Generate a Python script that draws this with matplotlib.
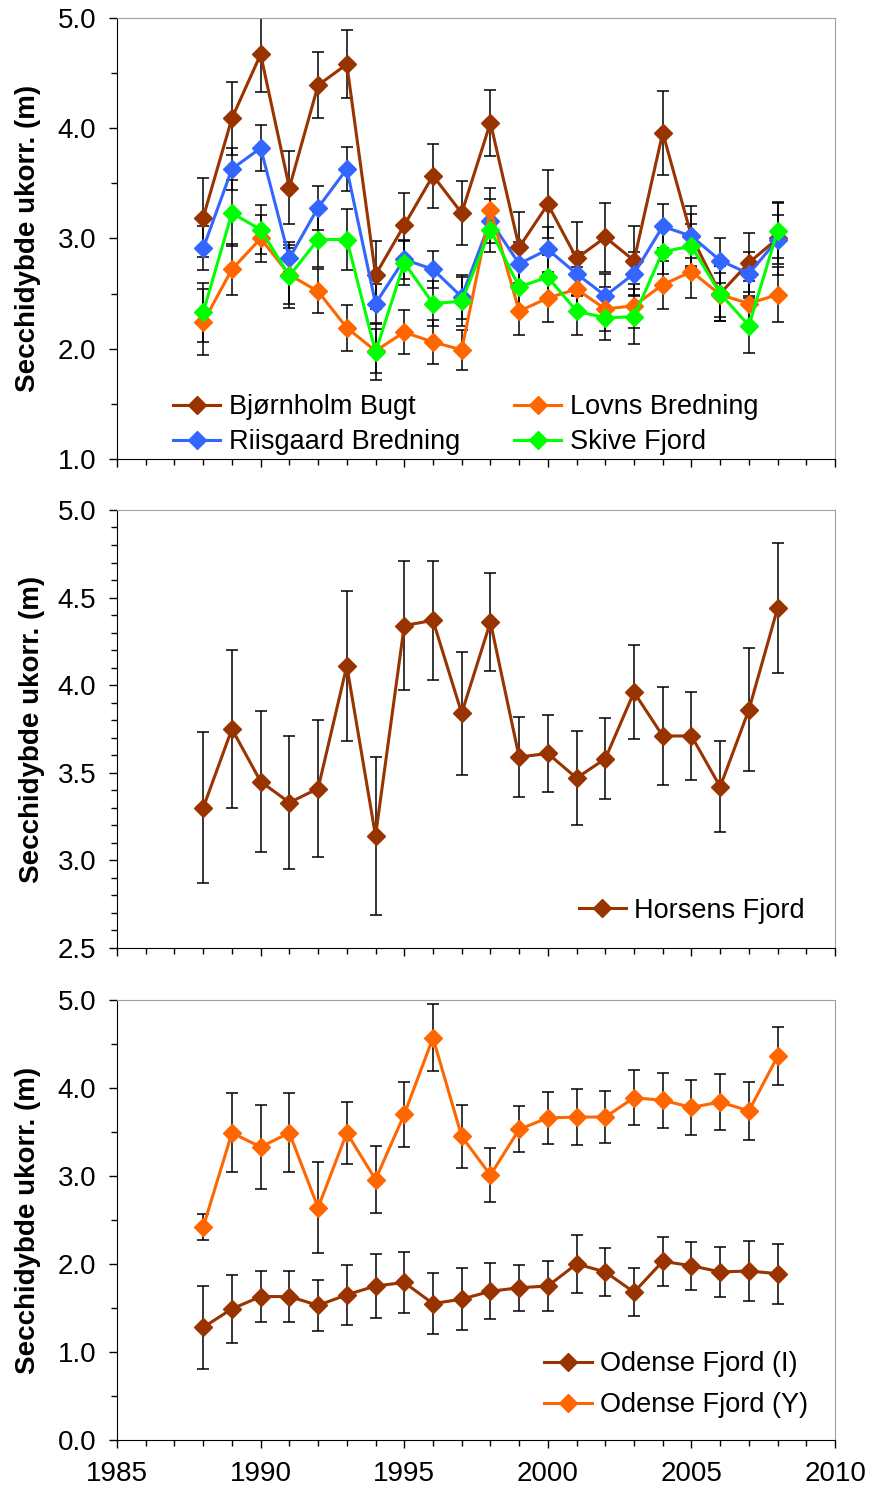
import numpy as np
import matplotlib
matplotlib.use("Agg")
import matplotlib.pyplot as plt
from matplotlib.ticker import MultipleLocator, FormatStrFormatter

plt.rcParams['font.family'] = ['Liberation Sans', 'DejaVu Sans']

years = list(range(1988, 2009))

# panel 1
bjornholm = [3.19, 4.09, 4.67, 3.46, 4.39, 4.58, 2.67, 3.12, 3.57, 3.23, 4.05,
             2.92, 3.31, 2.82, 3.01, 2.80, 3.96, 3.02, 2.50, 2.78, 3.00]
bjornholm_err = [0.36, 0.33, 0.34, 0.33, 0.30, 0.31, 0.31, 0.29, 0.29, 0.29, 0.30,
                 0.32, 0.31, 0.33, 0.31, 0.31, 0.38, 0.27, 0.25, 0.27, 0.33]
riisgaard = [2.91, 3.63, 3.82, 2.82, 3.28, 3.63, 2.41, 2.81, 2.72, 2.47, 3.16,
             2.77, 2.90, 2.68, 2.48, 2.68, 3.11, 3.02, 2.80, 2.68, 2.99]
riisgaard_err = [0.20, 0.19, 0.21, 0.12, 0.20, 0.20, 0.18, 0.18, 0.17, 0.20, 0.20,
                 0.20, 0.20, 0.20, 0.20, 0.20, 0.20, 0.20, 0.20, 0.20, 0.22]
lovns = [2.24, 2.72, 3.00, 2.67, 2.52, 2.19, 1.98, 2.15, 2.06, 1.99, 3.26,
         2.34, 2.46, 2.54, 2.36, 2.39, 2.58, 2.70, 2.49, 2.41, 2.49]
lovns_err = [0.30, 0.23, 0.21, 0.30, 0.20, 0.21, 0.20, 0.20, 0.20, 0.18, 0.20,
             0.22, 0.22, 0.20, 0.20, 0.20, 0.22, 0.24, 0.20, 0.20, 0.25]
skive = [2.33, 3.23, 3.08, 2.66, 2.99, 2.99, 1.97, 2.78, 2.41, 2.43, 3.08,
         2.56, 2.65, 2.34, 2.28, 2.29, 2.88, 2.93, 2.50, 2.21, 3.07]
skive_err = [0.27, 0.30, 0.22, 0.25, 0.25, 0.28, 0.25, 0.20, 0.20, 0.22, 0.20,
             0.22, 0.20, 0.22, 0.20, 0.25, 0.20, 0.20, 0.25, 0.25, 0.25]

# panel 2
horsens = [3.30, 3.75, 3.45, 3.33, 3.41, 4.11, 3.14, 4.34, 4.37, 3.84, 4.36,
           3.59, 3.61, 3.47, 3.58, 3.96, 3.71, 3.71, 3.42, 3.86, 4.44]
horsens_err = [0.43, 0.45, 0.40, 0.38, 0.39, 0.43, 0.45, 0.37, 0.34, 0.35, 0.28,
               0.23, 0.22, 0.27, 0.23, 0.27, 0.28, 0.25, 0.26, 0.35, 0.37]

# panel 3
odense_i = [1.28, 1.49, 1.63, 1.63, 1.53, 1.65, 1.75, 1.79, 1.55, 1.60, 1.69,
            1.73, 1.75, 2.00, 1.91, 1.68, 2.03, 1.98, 1.91, 1.92, 1.89]
odense_i_err = [0.47, 0.39, 0.29, 0.29, 0.29, 0.34, 0.36, 0.35, 0.35, 0.35, 0.32,
                0.26, 0.28, 0.33, 0.27, 0.27, 0.28, 0.27, 0.28, 0.34, 0.34]
odense_y = [2.42, 3.49, 3.33, 3.49, 2.64, 3.49, 2.96, 3.70, 4.57, 3.45, 3.01,
            3.53, 3.66, 3.67, 3.67, 3.89, 3.86, 3.78, 3.84, 3.74, 4.36]
odense_y_err = [0.15, 0.45, 0.48, 0.45, 0.52, 0.35, 0.38, 0.37, 0.38, 0.36, 0.31,
                0.26, 0.30, 0.32, 0.30, 0.31, 0.31, 0.31, 0.32, 0.33, 0.33]

BROWN = '#993300'
ORANGE = '#FF6600'
BLUE = '#3366FF'
GREEN = '#00FF00'

fig = plt.figure(figsize=(8.78, 14.95), dpi=100)
ax1 = fig.add_axes([0.1333, 0.6930, 0.8178, 0.2950])
ax2 = fig.add_axes([0.1333, 0.3659, 0.8178, 0.2930])
ax3 = fig.add_axes([0.1333, 0.0368, 0.8178, 0.2943])


def series(ax, y, err, color, label):
    ax.errorbar(years, y, yerr=err, fmt='none', ecolor='black', elinewidth=1.1,
                capsize=4, capthick=1.1, zorder=2)
    ax.plot(years, y, color=color, lw=2.2, marker='D', markersize=9,
            markeredgecolor=color, label=label, zorder=3)


def style(ax, ymin, ymax, major, minor, xlabels):
    ax.set_xlim(1985, 2010)
    ax.set_ylim(ymin, ymax)
    ax.xaxis.set_major_locator(MultipleLocator(5))
    ax.xaxis.set_minor_locator(MultipleLocator(1))
    ax.yaxis.set_major_locator(MultipleLocator(major))
    ax.yaxis.set_minor_locator(MultipleLocator(minor))
    ax.yaxis.set_major_formatter(FormatStrFormatter('%.1f'))
    ax.tick_params(which='major', direction='out', length=6, width=1,
                   labelsize=20, pad=9)
    ax.tick_params(which='minor', direction='out', length=4, width=1)
    if not xlabels:
        ax.tick_params(axis='x', labelbottom=False)
    ax.spines['top'].set_color('#a0a0a0')
    ax.spines['right'].set_color('#a0a0a0')
    ax.set_ylabel('Secchidybde ukorr. (m)', fontsize=20, fontweight='bold')


leg_kw = dict(frameon=False, fontsize=19.5, handlelength=1.75, handletextpad=0.3,
              borderpad=0, borderaxespad=0)

series(ax1, bjornholm, bjornholm_err, BROWN, 'Bjørnholm Bugt')
series(ax1, riisgaard, riisgaard_err, BLUE, 'Riisgaard Bredning')
series(ax1, lovns, lovns_err, ORANGE, 'Lovns Bredning')
series(ax1, skive, skive_err, GREEN, 'Skive Fjord')
style(ax1, 1.0, 5.0, 1.0, 0.5, False)
ax1.yaxis.set_label_coords(-0.106, 0.5)
ax1.legend(ncol=2, loc='lower left', bbox_to_anchor=(0.078, 0.009),
           columnspacing=2.0, labelspacing=0.33, **leg_kw)

series(ax2, horsens, horsens_err, BROWN, 'Horsens Fjord')
style(ax2, 2.5, 5.0, 0.5, 0.1, False)
ax2.yaxis.set_label_coords(-0.100, 0.5)
ax2.legend(loc='lower right', bbox_to_anchor=(0.958, 0.055), **leg_kw)

series(ax3, odense_i, odense_i_err, BROWN, 'Odense Fjord (I)')
series(ax3, odense_y, odense_y_err, ORANGE, 'Odense Fjord (Y)')
style(ax3, 0.0, 5.0, 1.0, 0.5, True)
ax3.yaxis.set_label_coords(-0.106, 0.5)
ax3.legend(loc='lower right', bbox_to_anchor=(0.962, 0.05),
           labelspacing=0.55, **leg_kw)

fig.savefig('out.png', dpi=100)
